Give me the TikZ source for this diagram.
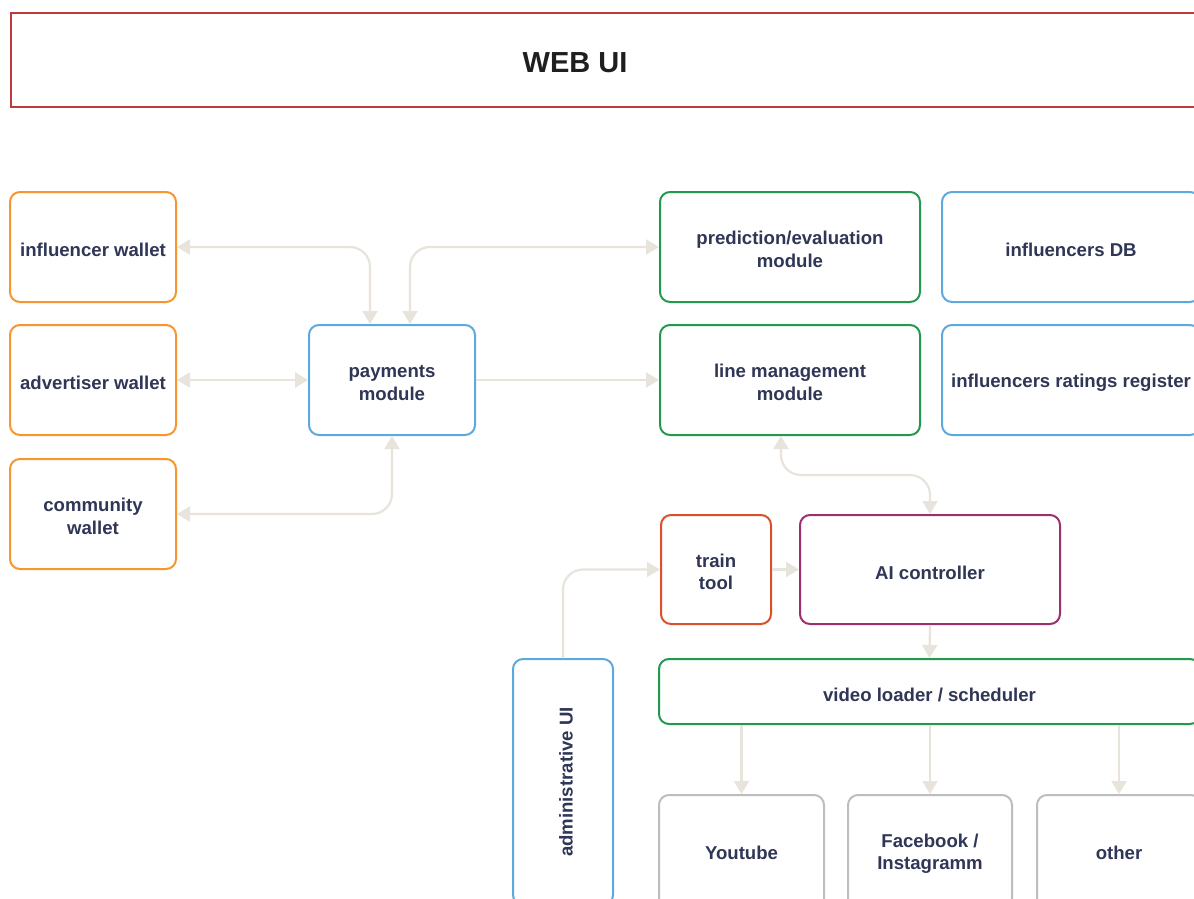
\documentclass[tikz,border=0pt]{standalone}
\usepackage{fontspec}
\setmainfont{Liberation Sans}
\usetikzlibrary{arrows.meta}
\definecolor{txt}{HTML}{2F3656}
\definecolor{arr}{HTML}{E8E4DC}
\definecolor{cred}{HTML}{C0393F}
\definecolor{corange}{HTML}{F7952F}
\definecolor{cblue}{HTML}{5DA9DD}
\definecolor{cgreen}{HTML}{23994E}
\definecolor{ctrain}{HTML}{D9502B}
\definecolor{cpurple}{HTML}{9C2F6E}
\definecolor{cgray}{HTML}{BDBDBD}
\tikzset{
  lbl/.style={font=\fontsize{18.6}{22.5}\selectfont\bfseries},
  box/.style={draw, line width=2pt, rounded corners=10pt, fill=white, text=txt,
    lbl, align=center, inner sep=0pt},
  one/.style={text height=19.5pt},
  two/.style={text height=40.5pt},
  conn/.style={draw=arr, line width=2.2pt, rounded corners=20pt,
    arrows={Triangle[length=13pt,width=15pt,color=arr]-Triangle[length=13pt,width=15pt,color=arr]}},
  connR/.style={draw=arr, line width=2.2pt, rounded corners=20pt,
    arrows={-Triangle[length=13pt,width=15pt,color=arr]}}
}
\begin{document}
\begin{tikzpicture}[x=1pt,y=-1pt]
\clip (0,0) rectangle (1194,899);
\fill[white] (0,0) rectangle (1194,899);
% web ui
\node[draw=cred, line width=2pt, minimum width=1240pt, minimum height=94pt, anchor=north west, inner sep=0pt] (web) at (10,12) {};
\node[text=black!88, font=\fontsize{29}{34}\selectfont\bfseries] (webt) at (575,63) {WEB UI};
% wallets
\node[box, one, draw=corange, minimum width=166pt, minimum height=110pt] (iw) at (93,247) {influencer wallet};
\node[box, one, draw=corange, minimum width=166pt, minimum height=110pt] (aw) at (93,380) {advertiser wallet};
\node[box, two, draw=corange, minimum width=166pt, minimum height=110pt] (cw) at (93,514) {community\\wallet};
% payments
\node[box, two, draw=cblue, minimum width=166pt, minimum height=110pt] (pay) at (392,380) {payments\\module};
% modules
\node[box, two, draw=cgreen, minimum width=260pt, minimum height=110pt] (pe) at (790,247) {prediction/evaluation\\module};
\node[box, two, draw=cgreen, minimum width=260pt, minimum height=110pt] (lm) at (790,380) {line management\\module};
\node[box, one, draw=cblue, minimum width=258pt, minimum height=110pt] (db) at (1071,247) {influencers DB};
\node[box, one, draw=cblue, minimum width=258pt, minimum height=110pt] (rr) at (1071,380) {influencers ratings register};
% AI
\node[box, two, draw=ctrain, minimum width=110pt, minimum height=109pt] (tt) at (716,569.5) {train\\tool};
\node[box, one, draw=cpurple, minimum width=260pt, minimum height=109pt] (ai) at (930,569.5) {AI controller};
\node[box, one, draw=cgreen, minimum width=541pt, minimum height=65pt] (vl) at (929.5,691.5) {video loader / scheduler};
\node[box, draw=cblue, minimum width=100pt, minimum height=246pt] (adm) at (563,782) {};
\node[text=txt, lbl, rotate=90] (admt) at (566,782) {administrative UI};
\node[box, draw=cgray, minimum width=165pt, minimum height=114pt, text height=15.5pt] (yt) at (741.5,852) {Youtube};
\node[box, draw=cgray, minimum width=164pt, minimum height=114pt, text depth=0pt] (fb) at (930,852) {Facebook /\\Instagramm};
\node[box, draw=cgray, minimum width=164pt, minimum height=114pt, text height=15.5pt] (ot) at (1119,852) {other};
% connectors
\draw[conn] (iw.east) -| ([xshift=-22pt]pay.north);
\draw[conn] ([xshift=18pt]pay.north) |- (pe.west);
\draw[conn] (aw.east) -- (pay.west);
\draw[connR] (pay.east) -- (lm.west);
\draw[conn] (pay.south) |- (cw.east);
\coordinate (lmb) at ([xshift=-9pt]lm.south);
\draw[conn] (lmb) -- ++(0,39) -| (ai.north);
\draw[connR] (adm.north) |- (tt.west);
\draw[connR] (tt.east) -- (ai.west);
\draw[connR] (ai.south) -- (vl.north);
\draw[connR] (yt.north |- vl.south) -- (yt.north);
\draw[connR] (fb.north |- vl.south) -- (fb.north);
\draw[connR] (ot.north |- vl.south) -- (ot.north);
\end{tikzpicture}
\end{document}
